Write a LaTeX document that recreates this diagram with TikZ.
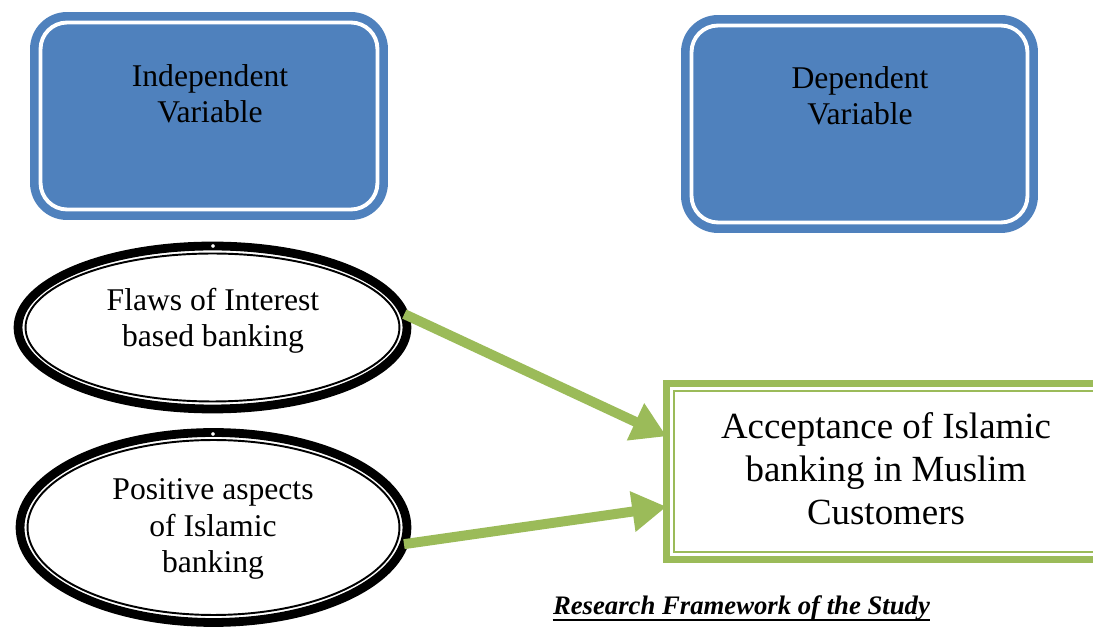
\documentclass[tikz,border=0pt]{standalone}
\usepackage{fontspec}
\setmainfont{Liberation Serif}
\usetikzlibrary{arrows.meta,shapes.geometric,calc}
\definecolor{vblue}{HTML}{4F81BD}
\definecolor{vgreen}{HTML}{9BBB59}
\begin{document}
\begin{tikzpicture}[x=0.02cm,y=-0.02cm,
  varbox/.style={rectangle, rounded corners=0.74cm, fill=vblue, inner sep=0pt, outer sep=0pt},
  innerwhite/.style={draw=white, line width=2.2pt, rounded corners=0.53cm},
  vartext/.style={align=center, font=\fontsize{18}{20.7}\selectfont, inner sep=0pt},
  ovalbox/.style={ellipse, draw=black, line width=5pt, inner sep=0pt, outer sep=0pt},
  ovalinner/.style={draw=black, line width=1.1pt},
  mark dot/.style={circle, draw=black, fill=white, line width=0.6pt, inner sep=0pt, minimum size=0.1cm},
  tgtbox/.style={rectangle, draw=vgreen, line width=3.97pt, inner sep=0pt, outer sep=0pt},
  arr/.style={draw=vgreen, line width=5.67pt, -{Triangle[length=19.5pt,width=22pt]}}
]
\clip (0,0) rectangle (1093,631);
\fill[white] (0,0) rectangle (1093,631);

% blue variable boxes
\node[varbox, minimum width=7.16cm, minimum height=4.16cm] (b1) at (209,116) {};
\draw[innerwhite] ($(b1.north west)+(10.5,10.5)$) rectangle ($(b1.south east)+(-10.5,-10.5)$);
\node[vartext] (t1) at (210,94) {Independent\\Variable};

\node[varbox, minimum width=7.14cm, minimum height=4.36cm] (b2) at (859.5,124) {};
\draw[innerwhite] ($(b2.north west)+(10.5,10.5)$) rectangle ($(b2.south east)+(-10.5,-10.5)$);
\node[vartext] (t2) at (860,96) {Dependent\\Variable};

% ellipses
\node[ovalbox, minimum width=7.78cm, minimum height=3.26cm] (e1) at (212.5,327.5) {};
\draw[ovalinner] (e1.center) ellipse [x radius=3.74cm, y radius=1.48cm];
\node[vartext] (et1) at (213,321) {Flaws of Interest\\based banking};

\node[ovalbox, minimum width=7.74cm, minimum height=3.8cm] (e2) at (213.5,527.5) {};
\draw[ovalinner] (e2.center) ellipse [x radius=3.72cm, y radius=1.75cm];
\node[vartext] (et2) at (213,529) {Positive aspects\\of Islamic\\banking};

\node[mark dot] (m1) at (213,246) {};
\node[mark dot] (m2) at (213,434) {};

% target box
\node[tgtbox, minimum width=9.07cm, minimum height=3.52cm] (tgt) at (893.25,471.5) {};
\draw[vgreen, line width=1.1pt] ($(tgt.north west)+(7.5,7.5)$) rectangle ($(tgt.south east)+(-7.5,-7.5)$);
\node[align=center, font=\fontsize{21}{24.5}\selectfont, inner sep=0pt] (tt) at (886,469) {Acceptance of Islamic\\banking in Muslim\\Customers};

% arrows
\draw[arr] (e1.4) -- ($(tgt.north west)!0.30!(tgt.south west)$);
\draw[arr] (e2.-5) -- ($(tgt.north west)!0.70!(tgt.south west)$);

% caption
\node[inner sep=0pt, anchor=base, font=\fontsize{15.2}{18}\selectfont\bfseries\itshape] (cap) at (741.5,615) {Research Framework of the Study};
\draw[line width=1.1pt] ($(cap.base west)+(0,5)$) -- ($(cap.base east)+(0,5)$);
\end{tikzpicture}
\end{document}
